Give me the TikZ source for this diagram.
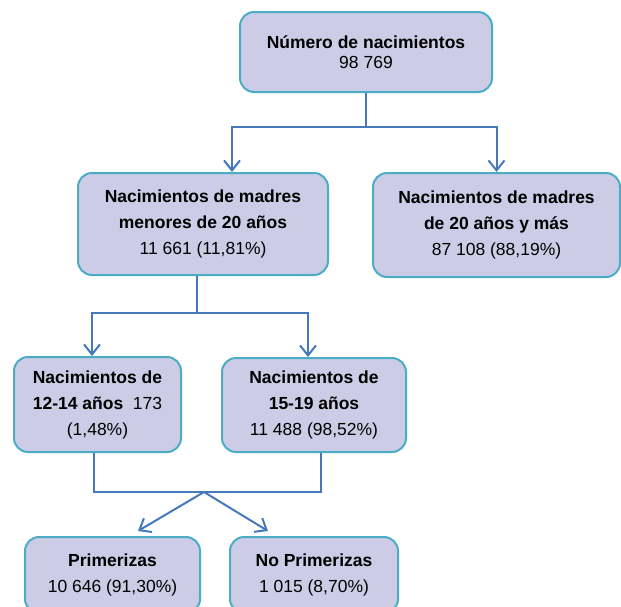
\documentclass[tikz,border=0pt]{standalone}
\usepackage{fontspec}
\setmainfont{Liberation Sans}
\usetikzlibrary{arrows.meta, positioning, calc}
\definecolor{boxFill}{RGB}{205,204,230}
\definecolor{boxLine}{RGB}{75,172,198}
\definecolor{linkBlue}{RGB}{70,120,190}
\tikzset{
    dataBox/.style={rectangle, rounded corners=14pt, draw=boxLine, fill=boxFill, line width=2pt, align=center, inner sep=0pt, font=\fontsize{17.5}{26}\selectfont},
    link/.style={draw=linkBlue, line width=2pt}
}

\begin{document}
\begin{tikzpicture}[x=1pt, y=-1pt, >={Straight Barb[length=10pt, width=16pt]}]
    \useasboundingbox (0,0) rectangle (621,606);
    \node[dataBox, minimum width=252pt, minimum height=80pt, font=\fontsize{17.5}{20.5}\selectfont] (total) at (366,52) {\textbf{Número de nacimientos}\\98 769};
    \node[dataBox, minimum width=250pt, minimum height=102pt] (menores) at (203,224) {\textbf{Nacimientos de madres}\\\textbf{menores de 20 años}\\11 661 (11,81\%)};
    \node[dataBox, minimum width=247pt, minimum height=104pt] (mayores) at (496.5,225) {\textbf{Nacimientos de madres}\\\textbf{de 20 años y más}\\87 108 (88,19\%)};
    \node[dataBox, minimum width=167pt, minimum height=95pt] (n1214) at (97.5,404.5) {\textbf{Nacimientos de}\\\textbf{12-14 años}\ \ 173\\(1,48\%)};
    \node[dataBox, minimum width=184pt, minimum height=94pt] (n1519) at (314,405) {\textbf{Nacimientos de}\\\textbf{15-19 años}\\11 488 (98,52\%)};
    \node[dataBox, minimum width=175pt, minimum height=76pt] (prim) at (112.5,575) {\textbf{Primerizas}\\10 646 (91,30\%)};
    \node[dataBox, minimum width=168pt, minimum height=76pt] (noprim) at (314,575) {\textbf{No Primerizas}\\1 015 (8,70\%)};
    % first split
    \coordinate (splitA) at (366,127);
    \draw[link] (total) -- (splitA);
    \draw[link,->] (splitA) -| ([xshift=29pt]menores.north);
    \draw[link,->] (splitA) -| (mayores.north);
    % second split
    \coordinate (splitB) at (197,313);
    \draw[link] ([xshift=-6pt]menores.south) -- (splitB);
    \draw[link,->] (splitB) -| ([xshift=-5.5pt]n1214.north);
    \draw[link,->] (splitB) -| ([xshift=-6pt]n1519.north);
    % join and last split
    \coordinate (joinC) at (204,492);
    \coordinate (c1214) at ([xshift=-3.5pt]n1214.south);
    \coordinate (c1519) at ([xshift=7pt]n1519.south);
    \draw[link, line width=1.2pt] (c1214) |- (c1519 |- joinC) -- (c1519);
    \coordinate (tipPrim) at (138,531);
    \coordinate (tipNoPrim) at (268,531);
    \draw[link,->] (joinC) -- (tipPrim);
    \draw[link,->] (joinC) -- (tipNoPrim);
\end{tikzpicture}
\end{document}
